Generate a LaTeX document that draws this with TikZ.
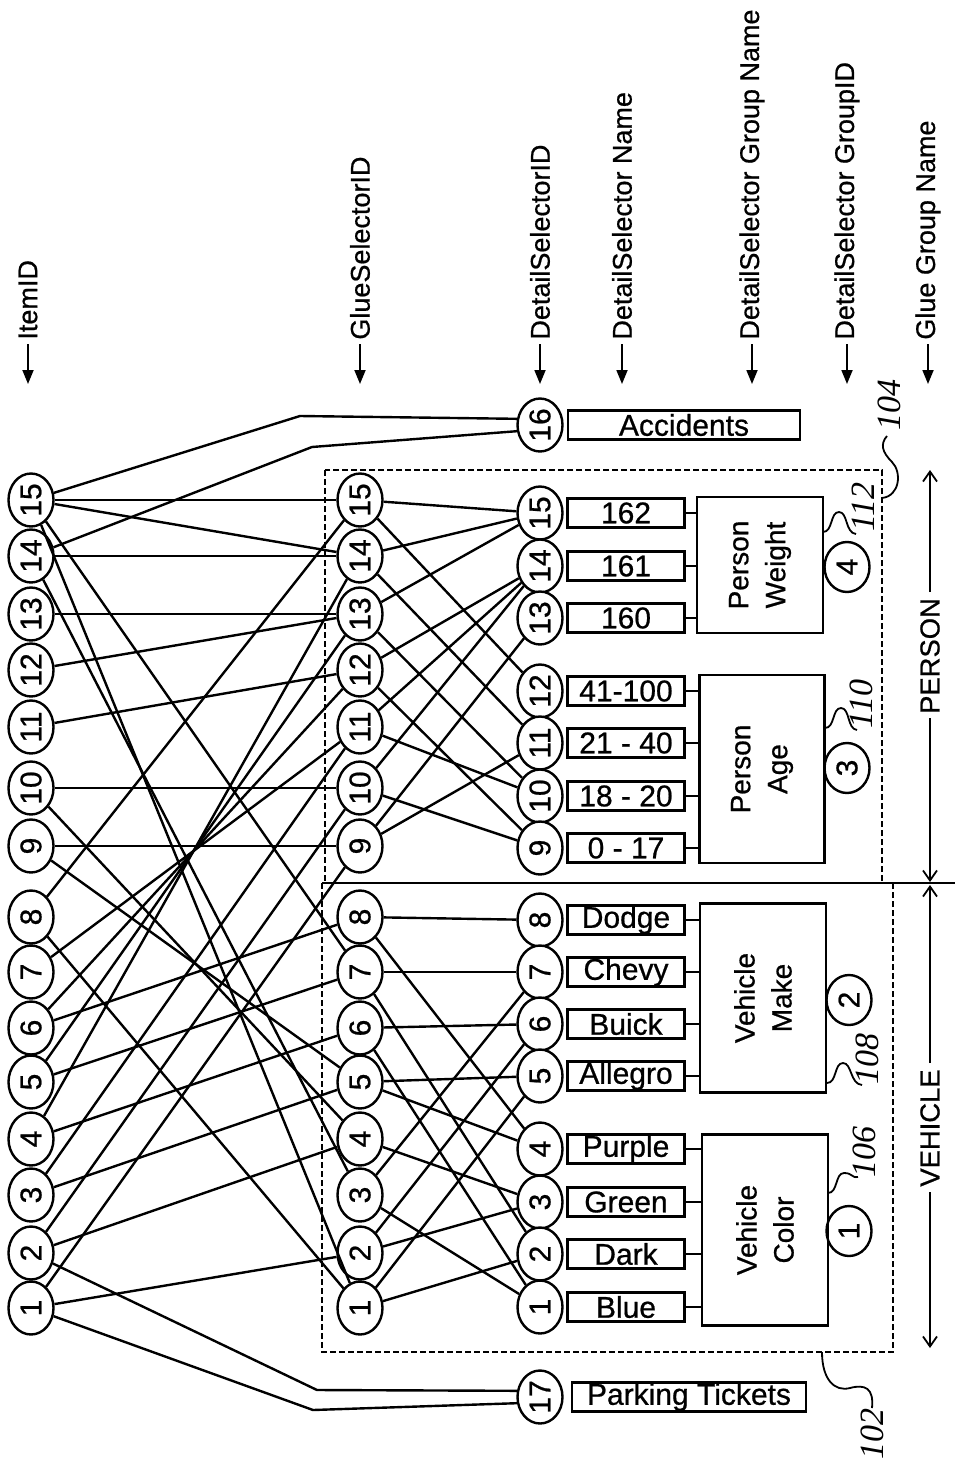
\documentclass[tikz,border=0pt]{standalone}
\usepackage{fontspec}
\setmainfont{Liberation Sans}[FakeBold=0.7]
\newfontfamily\refnumfont{Liberation Serif}
\usetikzlibrary{shapes.geometric,arrows.meta,calc}

\tikzset{
  idcirc/.style={draw, ellipse, line width=1.2pt, minimum width=26.5pt, minimum height=22.5pt,
    inner sep=0pt, rotate=90, font=\fontsize{15}{15}\selectfont},
  valbox/.style={draw, rectangle, line width=1.2pt, minimum width=58.5pt, minimum height=14.5pt,
    inner sep=0pt, font=\fontsize{15}{15}\selectfont},
  grpbox/.style={draw, rectangle, line width=1.2pt, inner sep=0pt, rotate=90, align=center,
    font=\fontsize{14}{18.5}\selectfont},
  header/.style={rotate=90, anchor=west, inner sep=0pt, font=\fontsize{13.5}{14}\selectfont},
  refnum/.style={rotate=90, inner sep=0pt, font=\refnumfont\itshape\fontsize{17}{17}\selectfont},
  zonename/.style={rotate=90, inner sep=0pt, font=\fontsize{13.7}{14}\selectfont},
  link/.style={line width=1.2pt},
  leader/.style={line width=0.9pt},
  zone/.style={dash pattern=on 3pt off 1.5pt, line width=0.9pt},
  dimarrow/.style={line width=0.9pt, -{Straight Barb[length=5pt,width=7pt]}},
}

\begin{document}
\begin{tikzpicture}[x=0.5pt, y=-0.5pt]
\useasboundingbox (0,0) rectangle (955,1462);

% column headings
\foreach \cx/\txt in {28/ItemID, 360/GlueSelectorID, 540/DetailSelectorID, 622/DetailSelector Name,
    752/DetailSelector Group Name, 847/DetailSelector GroupID, 928/Glue Group Name} {
  \node[header] at (\cx,340) {\txt};
  \draw[line width=0.9pt, -{Triangle[length=7pt,width=5.5pt]}] (\cx,344) -- (\cx,384);
}

% glue groups
\draw[zone] (325,470) rectangle (882,883);
\draw[zone] (322,883) rectangle (893,1352);
\draw[link] (322,883) -- (955,883);

% items and glue selectors
\foreach \n/\y in {15/500,14/556,13/614,12/670,11/727,10/788,9/846,8/917,7/972,6/1028,5/1082,4/1139,3/1195,2/1253,1/1308} {
  \node[idcirc] (i\n) at (31,\y) {\n};
  \node[idcirc, fill=white] (g\n) at (360,\y) {\n};
}

% detail selectors
\foreach \n/\y/\txt in {15/513/162, 14/566/161, 13/618/160, 12/691/41-100, 11/743/21 - 40, 10/796/18 - 20,
    9/848/0 - 17, 8/920/Dodge, 7/972/Chevy, 6/1024/Buick, 5/1076/Allegro, 4/1149/Purple, 3/1202/Green,
    2/1254/Dark, 1/1307/Blue} {
  \node[idcirc, fill=white] (d\n) at (540,\y) {\n};
  \node[valbox, fill=white] (v\n) at (626,\y) {\txt};
}
\node[idcirc] (d16) at (540,425) {16};
\node[valbox, minimum width=116pt] (v16) at (684,425) {Accidents};
\node[idcirc] (d17) at (540,1397) {17};
\node[valbox, minimum width=117pt] (v17) at (689,1397) {Parking Tickets};

% detail selector groups
\node[grpbox, minimum width=68pt, minimum height=63pt, fill=white] (wgt) at (760,565) {Person\\Weight};
\node[grpbox, minimum width=94pt, minimum height=62.5pt, fill=white] (age) at (762,769) {Person\\Age};
\node[grpbox, minimum width=94.5pt, minimum height=63pt, fill=white] (make) at (763,998) {Vehicle\\Make};
\node[grpbox, minimum width=95.5pt, minimum height=63pt, fill=white] (color) at (765,1230) {Vehicle\\Color};
\node[idcirc, minimum width=25pt] (gid4) at (847,567) {4};
\node[idcirc, minimum width=25pt] (gid3) at (847,768) {3};
\node[idcirc, minimum width=25pt] (gid2) at (849,1000) {2};
\node[idcirc, minimum width=25pt] (gid1) at (849,1231) {1};

\foreach \n in {13,14,15} \draw[link] (v\n.east) -- (v\n.east -| wgt.north);
\foreach \n in {9,10,11,12} \draw[link] (v\n.east) -- (v\n.east -| age.north);
\foreach \n in {5,6,7,8} \draw[link] (v\n.east) -- (v\n.east -| make.north);
\foreach \n in {1,2,3,4} \draw[link] (v\n.east) -- (v\n.east -| color.north);

% items to glue selectors
\foreach \a/\b in {15/15,15/14,15/1,15/7,14/14,14/3,13/13,12/13,11/12,10/10,10/4,9/9,9/5,8/15,8/1,
    7/11,6/12,6/8,5/13,5/7,4/14,4/6,3/11,3/5,2/10,2/4,1/9,1/2}
  \draw[link] (i\a) -- (g\b);

% glue selectors to detail selectors
\foreach \a/\b in {15/15,15/12,14/15,14/11,13/15,13/10,12/14,12/9,11/14,11/10,10/14,10/9,9/13,9/11,
    8/8,8/4,7/7,7/2,6/6,6/1,5/5,5/4,4/3,3/7,3/1,2/6,2/3,1/5,1/2}
  \draw[link] (g\a) -- (d\b);

% accidents and parking tickets
\coordinate (acc1) at (300,416);
\coordinate (acc2) at (312,447);
\draw[link] (i15) -- (acc1) -- (d16.75);
\draw[link] (i14) -- (acc2) -- (d16.105);
\coordinate (park1) at (317,1390);
\coordinate (park2) at (313,1410);
\draw[link] (i2) -- (park1) -- (d17.75);
\draw[link] (i1) -- (park2) -- (d17.105);

% glue group names
\draw[dimarrow] (930,592) -- (930,470);
\node[zonename] (person) at (930,656) {PERSON};
\draw[dimarrow] (930,718) -- (930,882);
\draw[dimarrow] (930,1063) -- (930,885);
\node[zonename] (vehicle) at (930,1128) {VEHICLE};
\draw[dimarrow] (930,1192) -- (930,1348);

% reference numerals
\node[refnum] (r104) at (889,405) {104};
\draw[leader] (882,498) .. controls (900,496) and (902,472) .. (892,462) .. controls (882,452) and (880,444) .. (887,436);
\node[refnum] (r112) at (863,507) {112};
\draw[leader] (823,532) .. controls (833,532) and (830,512) .. (839,512) .. controls (848,512) and (845,533) .. (856,534);
\node[refnum] (r110) at (861,704) {110};
\draw[leader] (825,728) .. controls (835,728) and (832,708) .. (841,708) .. controls (850,708) and (847,729) .. (857,730);
\node[refnum] (r108) at (867,1059) {108};
\draw[leader] (827,1083) .. controls (837,1083) and (834,1063) .. (843,1063) .. controls (852,1063) and (850,1084) .. (862,1085);
\node[refnum] (r106) at (864,1152) {106};
\draw[leader] (828,1193) .. controls (838,1193) and (835,1173) .. (844,1173) .. controls (853,1173) and (851,1178) .. (858,1177);
\node[refnum] (r102) at (872,1434) {102};
\draw[leader] (822,1352) .. controls (822,1380) and (835,1392) .. (850,1388) .. controls (865,1384) and (874,1388) .. (872,1408);

\end{tikzpicture}
\end{document}
